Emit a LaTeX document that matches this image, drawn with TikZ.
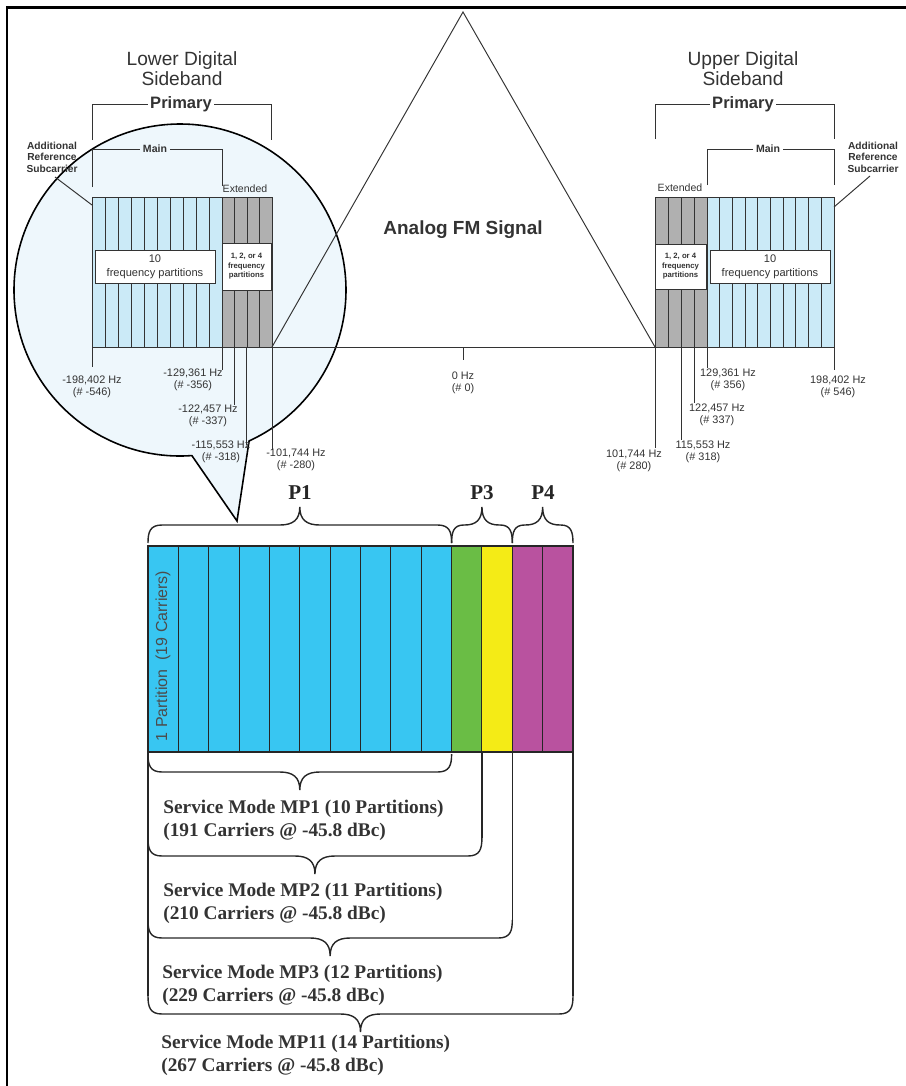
\documentclass[tikz,border=0pt]{standalone}
\usepackage{fontspec}
\setmainfont{Liberation Serif}
\setsansfont{Liberation Sans}
\usepackage{xcolor}
\usepackage{tikz}
\usetikzlibrary{positioning,calc}
\definecolor{darkline}{HTML}{333333}
\definecolor{lensfill}{HTML}{EEF7FC}
\definecolor{mainband}{HTML}{CBEAF7}
\definecolor{extband}{HTML}{B0B0B0}
\definecolor{pblue}{HTML}{38C6F2}
\definecolor{pgreen}{HTML}{6ABD45}
\definecolor{pyellow}{HTML}{F4EB16}
\definecolor{pmagenta}{HTML}{B9529F}
\newcommand{\hzfont}{\fontsize{6.2}{6.4}\selectfont\sffamily}
\newcommand{\modefont}{\fontsize{11}{13}\selectfont\bfseries}
\newcommand{\refsize}{\fontsize{5.8}{6.6}\selectfont\sffamily\bfseries}
% brace: left x, right x, end y, direction (+1 down, -1 up)
\newcommand{\spanbrace}[4]{%
  \pgfmathsetmacro{\bxm}{(#1+#2)/2}%
  \pgfmathsetmacro{\bc}{min(14,(#2-#1)/5)}%
  \pgfmathsetmacro{\bt}{min(20,(#2-#1)/3.5)}%
  \pgfmathsetmacro{\byk}{#3+#4*11}%
  \pgfmathsetmacro{\byh}{#3+#4*18}%
  \pgfmathsetmacro{\bys}{#3+#4*23}%
  \pgfmathsetmacro{\byt}{#3+#4*36}%
  \draw[bracestyle] (#1,#3) .. controls (#1,\byk) and (#1+2,\byh) .. (#1+\bc,\byh) -- (\bxm-\bt,\byh)
    .. controls (\bxm-0.35*\bt,\byh) and (\bxm,\bys) .. (\bxm,\byt)
    .. controls (\bxm,\bys) and (\bxm+0.35*\bt,\byh) .. (\bxm+\bt,\byh)
    -- (#2-\bc,\byh) .. controls (#2-2,\byh) and (#2,\byk) .. (#2,#3);
}
\tikzset{
  thinline/.style={draw=darkline, line width=0.55pt},
  bracestyle/.style={draw=black!85, line width=0.8pt},
  hzlab/.style={font=\hzfont, text=darkline, align=center, anchor=north, inner sep=0pt},
  bandtitle/.style={font=\fontsize{10.9}{11.4}\selectfont\sffamily, text=darkline, align=center},
  bracketlab/.style={fill=white, inner sep=1.5pt, text=darkline},
  partbox/.style={draw=darkline, fill=white, line width=0.55pt, align=center, inner sep=0pt, text=darkline},
  modelab/.style={font=\modefont, text=black!80, anchor=west, align=left, inner sep=0pt},
  plab/.style={font=\fontsize{12}{12}\selectfont\bfseries, text=black!85}
}
\begin{document}
\begin{tikzpicture}[x=0.02cm, y=-0.02cm]
    \useasboundingbox (0,0) rectangle (906,1086);
    \draw[line width=1.2pt] (7,1086) -- (7,7.5) -- (906,7.5);

    % magnifier
    \filldraw[fill=lensfill, draw=black, line width=0.9pt] (180,290) ++(85.9:166) arc[start angle=85.9, end angle=425.4, radius=166] -- (237,521) -- cycle;

    % lower sideband
    \fill[mainband] (92,197) rectangle (222,347);
    \fill[extband] (222,197) rectangle (272,347);
    \foreach \i in {0,...,10} \draw[thinline] ({92+13*\i},197) -- ({92+13*\i},347);
    \foreach \i in {1,...,4} \draw[thinline] ({222+12.5*\i},197) -- ({222+12.5*\i},347);
    \draw[thinline] (92,197) -- (272,197);
    \node[partbox, minimum width=2.4cm, minimum height=0.66cm, font=\fontsize{6.3}{8}\selectfont\sffamily] (lowmainbox) at (155,266.5) {10\\frequency partitions};
    \node[partbox, minimum width=0.98cm, minimum height=0.94cm, font=\fontsize{4.4}{5.4}\selectfont\sffamily\bfseries] (lowextbox) at (246.5,266.5) {1, 2, or 4\\frequency\\partitions};

    % upper sideband
    \fill[extband] (655,197) rectangle (707,347);
    \fill[mainband] (707,197) rectangle (834,347);
    \foreach \i in {0,...,4} \draw[thinline] ({655+13*\i},197) -- ({655+13*\i},347);
    \foreach \i in {1,...,10} \draw[thinline] ({707+12.7*\i},197) -- ({707+12.7*\i},347);
    \draw[thinline] (655,197) -- (834,197);
    \node[partbox, minimum width=1.02cm, minimum height=0.9cm, font=\fontsize{4.4}{5.4}\selectfont\sffamily\bfseries] (upextbox) at (680.5,266.5) {1, 2, or 4\\frequency\\partitions};
    \node[partbox, minimum width=2.4cm, minimum height=0.66cm, font=\fontsize{6.3}{8}\selectfont\sffamily] (upmainbox) at (770,266.5) {10\\frequency partitions};

    % analog signal
    \draw[thinline] (92,347) -- (834,347);
    \draw[thinline] (272,347) -- (463,12) -- (655,347);
    \node[font=\fontsize{10.8}{11}\selectfont\sffamily\bfseries, text=darkline] (fm) at (463,230) {Analog FM Signal};

    % titles and brackets
    \node[bandtitle] (lowtitle) at (182,69) {Lower Digital\\Sideband};
    \node[bandtitle] (uptitle) at (743,69) {Upper Digital\\Sideband};
    \draw[thinline] (92,140) -- (92,104) -- (271,104) -- (271,140);
    \node[bracketlab, font=\fontsize{9.4}{10}\selectfont\sffamily\bfseries] (lowprim) at (181,104) {Primary};
    \draw[thinline] (92,187) -- (92,149) -- (222,149) -- (222,186);
    \node[bracketlab, fill=lensfill, font=\fontsize{6}{6}\selectfont\sffamily\bfseries] (lowmain) at (155,149) {Main};
    \node[font=\fontsize{6}{6}\selectfont\sffamily, text=darkline, inner sep=0pt] (lowext) at (245,189) {Extended};
    \draw[thinline] (655,139) -- (655,104) -- (834,104) -- (834,139);
    \node[bracketlab, font=\fontsize{9.4}{10}\selectfont\sffamily\bfseries] (upprim) at (743,104) {Primary};
    \draw[thinline] (707,185) -- (707,149) -- (834,149) -- (834,185);
    \node[bracketlab, font=\fontsize{6}{6}\selectfont\sffamily\bfseries] (upmain) at (768,149) {Main};
    \node[font=\fontsize{6}{6}\selectfont\sffamily, text=darkline, inner sep=0pt] (upext) at (680,188) {Extended};

    \node[font=\refsize, text=darkline, align=center, inner sep=0pt] (lowref) at (52,157) {Additional\\Reference\\Subcarrier};
    \node[font=\refsize, text=darkline, align=center, inner sep=0pt] (upref) at (873,157) {Additional\\Reference\\Subcarrier};
    \coordinate (lowrefA) at (55,177);
    \coordinate (lowrefB) at (92,205);
    \coordinate (uprefA) at (870,176);
    \coordinate (uprefB) at (834,207);
    \draw[thinline] (lowrefA) -- (lowrefB);
    \draw[thinline] (uprefA) -- (uprefB);

    % frequency ticks
    \draw[thinline] (92,347) -- (92,367);
    \node[hzlab] (hzA) at (92,376) {-198,402 Hz\\(\# -546)};
    \draw[thinline] (222,347) -- (222,370);
    \node[hzlab] (hzB) at (193,369) {-129,361 Hz\\(\# -356)};
    \draw[thinline] (234,347) -- (234,405);
    \node[hzlab] (hzC) at (208,405) {-122,457 Hz\\(\# -337)};
    \draw[thinline] (246,347) -- (246,445);
    \node[hzlab] (hzD) at (221,441) {-115,553 Hz\\(\# -318)};
    \draw[thinline] (272,347) -- (272,450);
    \node[hzlab] (hzE) at (296,449) {-101,744 Hz\\(\# -280)};
    \draw[thinline] (463,347) -- (463,360);
    \node[hzlab] (hzF) at (463,372) {0 Hz\\(\# 0)};
    \draw[thinline] (655,347) -- (655,448);
    \node[hzlab] (hzG) at (634,450) {101,744 Hz\\(\# 280)};
    \draw[thinline] (681,347) -- (681,440);
    \node[hzlab] (hzH) at (703,441) {115,553 Hz\\(\# 318)};
    \draw[thinline] (694,347) -- (694,403);
    \node[hzlab] (hzI) at (717,404) {122,457 Hz\\(\# 337)};
    \draw[thinline] (707,347) -- (707,368);
    \node[hzlab] (hzJ) at (728,369) {129,361 Hz\\(\# 356)};
    \draw[thinline] (834,347) -- (834,370);
    \node[hzlab] (hzK) at (838,376) {198,402 Hz\\(\# 546)};

    % partition bar
    \fill[pblue] (148,546) rectangle (451.6,752);
    \fill[pgreen] (451.6,546) rectangle (481.9,752);
    \fill[pyellow] (481.9,546) rectangle (512.3,752);
    \fill[pmagenta] (512.3,546) rectangle (573,752);
    \foreach \i in {1,...,13} \draw[black!85, line width=0.6pt] ({148+30.357*\i},546) -- ({148+30.357*\i},752);
    \draw[black!85, line width=0.7pt] (148,546) rectangle (573,752);
    \node[rotate=90, font=\fontsize{9.1}{9.1}\selectfont\sffamily, text=black!70, inner sep=0pt] (onepart) at (163,656) {1 Partition~ (19 Carriers)};

    \spanbrace{148}{451.6}{543}{-1}
    \spanbrace{451.6}{512.3}{543}{-1}
    \spanbrace{512.3}{573}{543}{-1}
    \node[plab] (pone) at (300,493) {P1};
    \node[plab] (pthree) at (482,493) {P3};
    \node[plab] (pfour) at (543,493) {P4};

    % service modes
    \draw[bracestyle] (148,752) -- (148,996);
    \draw[bracestyle] (481.9,752) -- (481.9,838);
    \draw[bracestyle] (512.3,752) -- (512.3,920);
    \draw[bracestyle] (573,752) -- (573,996);
    \spanbrace{148}{451.6}{754}{1}
    \spanbrace{148}{481.9}{838}{1}
    \spanbrace{148}{512.3}{920}{1}
    \spanbrace{148}{573}{996}{1}
    \node[modelab] (mpone) at (163,820.5) {Service Mode MP1 (10 Partitions)\\(191 Carriers @ -45.8 dBc)};
    \node[modelab] (mptwo) at (163,903) {Service Mode MP2 (11 Partitions)\\(210 Carriers @ -45.8 dBc)};
    \node[modelab] (mpthree) at (162,985) {Service Mode MP3 (12 Partitions)\\(229 Carriers @ -45.8 dBc)};
    \node[modelab] (mpeleven) at (161,1055) {Service Mode MP11 (14 Partitions)\\(267 Carriers @ -45.8 dBc)};
\end{tikzpicture}
\end{document}
